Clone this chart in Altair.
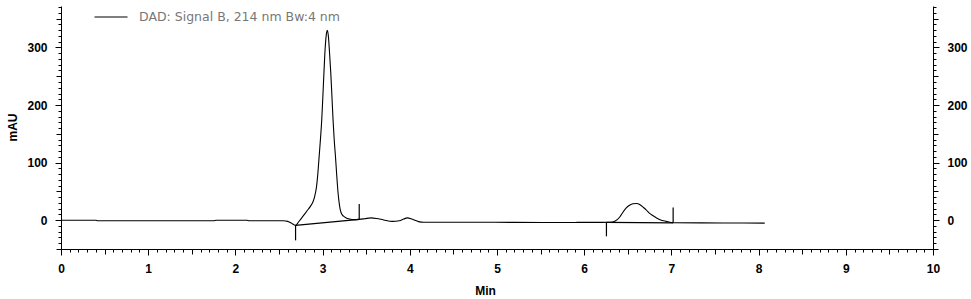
import altair as alt
import pandas as pd
import numpy as np

# ---- data ----
trace_t = [0.00, 0.40, 0.42, 1.75, 1.78, 2.13, 2.16, 2.55, 2.60, 2.64, 2.69, 2.72,
           2.75, 2.78, 2.82, 2.86, 2.89, 2.91, 2.93, 2.945, 2.96, 2.975, 2.99, 3.003,
           3.016, 3.03, 3.045, 3.055, 3.066, 3.08, 3.093, 3.107, 3.12, 3.133, 3.147,
           3.162, 3.177, 3.19, 3.20, 3.215, 3.24, 3.27, 3.31, 3.36, 3.42, 3.48, 3.555,
           3.62, 3.70, 3.80, 3.88, 3.93, 3.97, 4.03, 4.10, 4.16, 4.60, 5.20, 5.88, 5.92,
           6.20, 6.30, 6.35, 6.41, 6.44, 6.48, 6.52, 6.56, 6.60, 6.64, 6.68, 6.71, 6.75,
           6.79, 6.83, 6.87, 6.94, 7.02, 7.60, 8.07]
trace_v = [0.0, 0.0, -1.0, -1.0, 0.0, 0.0, -1.0, -1.0, -2.0, -5.0, -9.0, -4.0,
           2.0, 8.0, 16.0, 24.0, 32.0, 42.0, 58.0, 80.0, 110.0, 140.0, 174.0, 215.0,
           258.0, 300.0, 325.0, 330.0, 320.0, 290.0, 258.0, 215.0, 174.0, 140.0, 112.0,
           78.0, 48.0, 30.0, 20.0, 12.0, 7.0, 4.0, 2.0, 1.0, 1.5, 2.5, 4.0,
           3.0, 0.5, -2.0, -1.0, 2.0, 4.0, 1.5, -2.5, -3.5, -3.5, -3.8, -4.0, -3.8,
           -3.8, -3.6, -2.0, 6.0, 13.0, 21.0, 26.0, 28.5, 29.0, 27.0, 22.0, 18.0, 12.0,
           7.8, 4.0, 1.0, -2.0, -4.5, -4.8, -5.0]
series_name = ["DAD: Signal B, 214 nm Bw:4 nm"]

# integration baselines and peak start/stop markers
seg_id = ["b1", "b1", "m1", "m1", "m2", "m2", "b2", "b2", "m3", "m3", "m4", "m4"]
seg_t = [2.69, 3.42, 2.69, 2.69, 3.42, 3.42, 6.255, 7.02, 6.255, 6.255, 7.02, 7.02]
seg_v = [-9.0, 1.5, -9.0, -35.0, 1.5, 28.0, -3.8, -4.5, -3.8, -28.0, -4.5, 22.0]

x_major = list(range(0, 11))
x_mid = [i + 0.5 for i in range(10)]
x_minor = [round(v, 1) for v in np.arange(0, 10.001, 0.1)]
y_major = [0, 100, 200, 300]
y_mid = [-50, 50, 150, 250, 350]
y_minor = list(range(-50, 371, 10))

trace = pd.DataFrame({"t": trace_t, "v": trace_v, "s": series_name * len(trace_t)})
segs = pd.DataFrame({"id": seg_id, "t": seg_t, "v": seg_v})

FONT = "Liberation Sans"
WEIGHT = "bold"
xs = alt.Scale(domain=[0, 10], nice=False, zero=False)
ys = alt.Scale(domain=[-50, 372], nice=False, zero=False)


def xaxis(values, size, labels=False, title=None, domain=False):
    kw = dict(values=values, orient="bottom", tickSize=size, tickColor="black",
              tickWidth=1, grid=False, domain=domain, labels=labels)
    if domain:
        kw.update(domainColor="black", domainWidth=1)
    if labels:
        kw.update(labelFont=FONT, labelFontSize=12, labelColor="black",
                  labelFontWeight=WEIGHT, labelPadding=8, labelFlush=False)
    if title:
        kw.update(title=title, titleFont=FONT, titleFontSize=12,
                  titleFontWeight=WEIGHT, titleColor="black",
                  titleX=424, titleY=41, titleBaseline="middle", titleAlign="center")
    else:
        kw.update(title=None)
    return alt.Axis(**kw)


def yaxis(values, size, orient, labels=False, title=None, domain=False):
    kw = dict(values=values, orient=orient, tickSize=size, tickColor="black",
              tickWidth=1, grid=False, domain=domain, labels=labels)
    if domain:
        kw.update(domainColor="black", domainWidth=1)
    if labels:
        kw.update(labelFont=FONT, labelFontSize=12, labelColor="black",
                  labelFontWeight=WEIGHT, labelPadding=8, labelFlush=False,
                  labelBaseline="middle")
    if title:
        kw.update(title=title, titleFont=FONT, titleFontSize=12,
                  titleFontWeight=WEIGHT, titleColor="black",
                  titleAngle=270, titleX=-49, titleY=121,
                  titleBaseline="middle", titleAlign="center")
    else:
        kw.update(title=None)
    return alt.Axis(**kw)


line = alt.Chart(trace).mark_line(strokeWidth=1.1, interpolate="monotone").encode(
    x=alt.X("t:Q", scale=xs, axis=xaxis(x_major, 6, labels=True, title="Min", domain=True)),
    y=alt.Y("v:Q", scale=ys, axis=yaxis(y_major, 6, "left", labels=True, title="mAU", domain=True)),
    color=alt.Color("s:N", scale=alt.Scale(range=["black"]),
                    legend=alt.Legend(title=None, orient="none", legendX=33, legendY=-6,
                                      symbolType="stroke", symbolSize=1089,
                                      symbolStrokeWidth=1, symbolStrokeColor="black",
                                      labelFont="DejaVu Sans", labelFontSize=12.5,
                                      labelColor="#777777", labelOffset=11, padding=0,
                                      labelLimit=0)),
)

marks = alt.Chart(segs).mark_line(color="black", strokeWidth=1.2).encode(
    x=alt.X("t:Q", scale=xs, axis=xaxis(x_mid, 5)),
    y=alt.Y("v:Q", scale=ys, axis=yaxis(y_mid, 5, "left")),
    detail="id:N",
)

ghost = alt.Chart(trace).mark_line(opacity=0)
g1 = ghost.encode(x=alt.X("t:Q", scale=xs, axis=xaxis(x_minor, 3)),
                  y=alt.Y("v:Q", scale=ys, axis=yaxis(y_minor, 3, "left")))
g2 = ghost.encode(x=alt.X("t:Q", scale=xs, axis=None),
                  y=alt.Y("v:Q", scale=ys, axis=yaxis(y_major, 6, "right", labels=True, domain=True)))
g3 = ghost.encode(x=alt.X("t:Q", scale=xs, axis=None),
                  y=alt.Y("v:Q", scale=ys, axis=yaxis(y_mid, 5, "right")))
g4 = ghost.encode(x=alt.X("t:Q", scale=xs, axis=None),
                  y=alt.Y("v:Q", scale=ys, axis=yaxis(y_minor, 3, "right")))

chart = alt.layer(line, marks, g1, g2, g3, g4).resolve_axis(
    x="independent", y="independent"
).properties(
    width=872, height=243,
    padding={"left": 61, "top": 6, "right": 38, "bottom": 50},
    autosize=alt.AutoSizeParams(type="none"),
    background="white",
).configure_view(stroke=None)

chart.save("out.html", embed_options={"renderer": "svg", "actions": False})
